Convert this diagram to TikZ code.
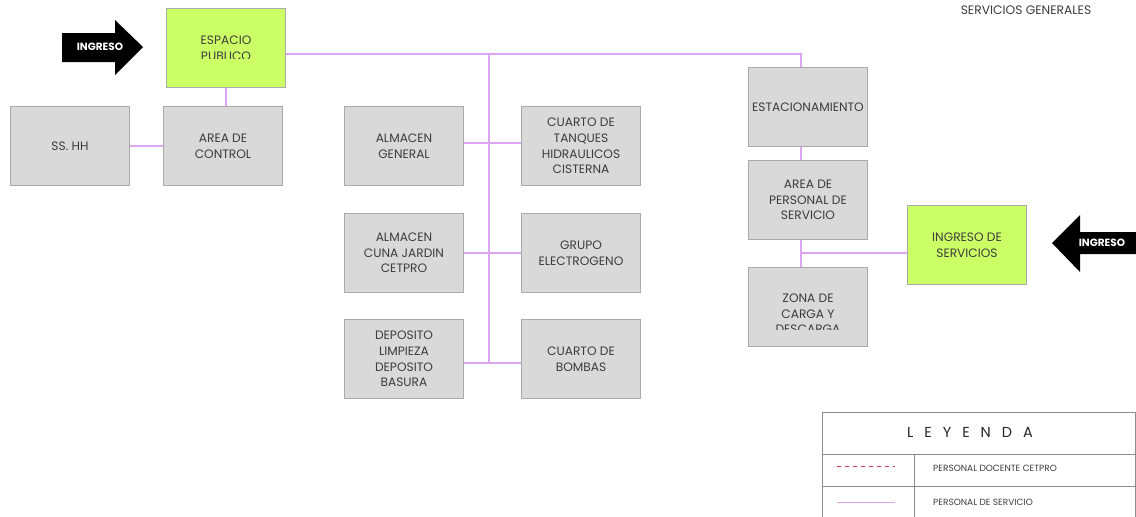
\documentclass[tikz,border=0pt]{standalone}
\usepackage{fontspec}
\setmainfont{Poppins}
\definecolor{boxfill}{RGB}{217,217,217}
\definecolor{boxline}{RGB}{170,170,170}
\definecolor{greenfill}{RGB}{204,255,102}
\definecolor{link}{RGB}{222,165,242}
\definecolor{txt}{RGB}{60,60,60}
\definecolor{dashred}{RGB}{210,60,70}
\begin{document}
\begin{tikzpicture}[x=1pt,y=-1pt,
  room/.style={draw=boxline, fill=boxfill, line width=1pt, minimum width=119pt, minimum height=79pt,
    inner sep=0pt, anchor=north west, align=center, text=txt, font=\fontsize{12.2}{15.6}\selectfont},
  greenroom/.style={room, fill=greenfill},
  label/.style={align=center, text=txt, font=\fontsize{12.2}{15.6}\selectfont, inner sep=0pt},
  conn/.style={draw=link, line width=1.2pt},
  bigarrow/.style={fill=black},
  arrowtext/.style={text=white, font=\fontsize{10.5}{11}\selectfont\bfseries, inner sep=0pt},
  legline/.style={draw=black!45, line width=0.8pt},
  legtext/.style={anchor=west, font=\fontsize{9}{10}\selectfont, text=txt, inner sep=0pt}]
\useasboundingbox (0,0) rectangle (1136,517);

% title
\node[text=txt, font=\fontsize{12.3}{13}\selectfont, inner sep=0pt] (title) at (1026,10) {SERVICIOS GENERALES};

% rooms
\node[greenroom] (esp) at (166,8) {};
\begin{scope}\clip (166,8) rectangle (286,58);
\node[label] (espt) at (esp.center) {ESPACIO\\PUBLICO};
\end{scope}
\node[room] (sshh) at (10,106) {SS. HH};
\node[room] (ctrl) at (163,106) {AREA DE\\CONTROL};

\node[room] (almgen) at (344,106) {ALMACEN\\GENERAL};
\node[room] (tanq) at (521,106) {CUARTO DE\\TANQUES\\HIDRAULICOS\\CISTERNA};
\node[room] (almcuna) at (344,213) {ALMACEN\\CUNA JARDIN\\CETPRO};
\node[room] (grupo) at (521,213) {GRUPO\\ELECTROGENO};
\node[room] (dep) at (344,319) {DEPOSITO\\LIMPIEZA\\DEPOSITO\\BASURA};
\node[room] (bomb) at (521,319) {CUARTO DE\\BOMBAS};

\node[room] (estac) at (748,67) {ESTACIONAMIENTO};
\node[room] (pers) at (748,160) {AREA DE\\PERSONAL DE\\SERVICIO};
\node[room] (zona) at (748,267) {};
\begin{scope}\clip (748,267) rectangle (868,329);
\node[label] (zonat) at ([yshift=-7pt]zona.center) {ZONA DE\\CARGA Y\\DESCARGA};
\end{scope}
\node[greenroom] (ingserv) at (907,205) {};
\begin{scope}\clip (907,205) rectangle (1027,256);
\node[label] (ingservt) at (ingserv.center) {INGRESO DE\\SERVICIOS};
\end{scope}

% connectors
\coordinate (j1) at (489,54);
\coordinate (j2) at (801,54);
\coordinate (j3) at (489,362);
\coordinate (j4) at (801,253);
\draw[conn] (esp.east |- j1) -- (j2) -- (j2 |- estac.north);
\draw[conn] (j1) -- (j3);
\draw[conn] (esp.south) -- (ctrl.north -| esp.south);
\draw[conn] (sshh.east) -- (ctrl.west);
\draw[conn] ([yshift=3pt]almgen.east) -- ([yshift=3pt]tanq.west);
\draw[conn] (almcuna.east) -- (grupo.west);
\draw[conn] ([yshift=-4pt]dep.east) -- ([yshift=-4pt]bomb.west);
\draw[conn] (j2 |- estac.south) -- (j2 |- pers.north);
\draw[conn] (j2 |- pers.south) -- (j2 |- zona.north);
\draw[conn] (j4) -- (j4 -| ingserv.west);

% entrance arrows
\fill[bigarrow] (62,33) -- (115,33) -- (115,20) -- (143,47) -- (115,75) -- (115,62) -- (62,62) -- cycle;
\node[arrowtext] (in1) at (100,47) {INGRESO};
\fill[bigarrow] (1136,232) -- (1080,232) -- (1080,215) -- (1052,243) -- (1080,272) -- (1080,254) -- (1136,254) -- cycle;
\node[arrowtext] (in2) at (1102,243) {INGRESO};

% legend
\draw[legline] (822.5,412.5) rectangle (1135.5,520);
\draw[legline] (822.5,454) -- (1135.5,454);
\draw[legline] (822.5,486) -- (1135.5,486);
\draw[legline] (914,454) -- (914,517);
\node[font=\fontsize{14.5}{15}\selectfont, inner sep=0pt, text=black!85] (leg) at (970,432) {L\hspace{11pt}E\hspace{11pt}Y\hspace{11pt}E\hspace{11pt}N\hspace{11pt}D\hspace{11pt}A};
\coordinate (d1) at (837,466);
\coordinate (d2) at (895,466);
\draw[draw=dashred, line width=1pt, dash pattern=on 4pt off 4pt] (d1) -- (d2);
\coordinate (v1) at (837,502);
\coordinate (v2) at (895,502);
\draw[conn, line width=0.9pt] (v1) -- (v2);
\node[legtext] (l1) at (933,468) {PERSONAL DOCENTE CETPRO};
\node[legtext] (l2) at (933,502) {PERSONAL DE SERVICIO};
\end{tikzpicture}
\end{document}
